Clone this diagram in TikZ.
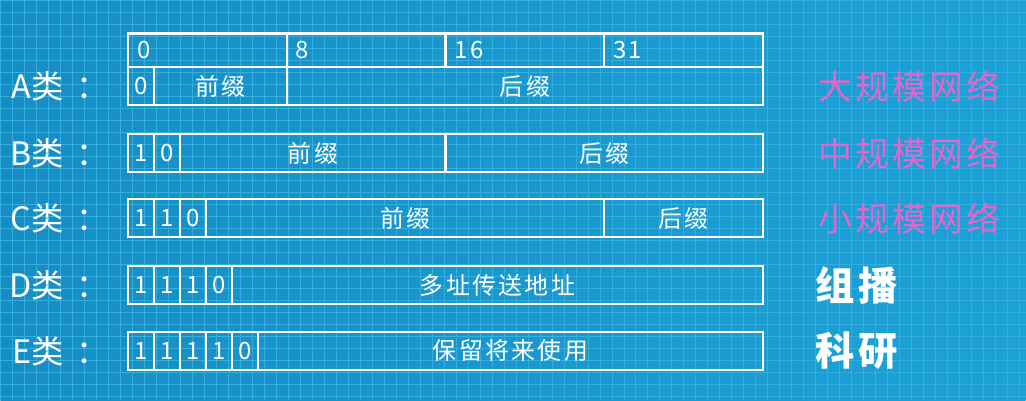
\documentclass[tikz,border=0pt]{standalone}
\usepackage{fontspec}
\setmainfont{Noto Sans CJK SC}
\newfontfamily\cellfont[LetterSpace=10]{Noto Sans CJK SC}
\usetikzlibrary{positioning}
\definecolor{bgleft}{HTML}{178DC5}
\definecolor{bgright}{HTML}{1CA2D7}
\definecolor{gridcol}{HTML}{34AEDD}
\definecolor{netpink}{HTML}{E466CC}
\definecolor{shadowcol}{HTML}{2A3F7A}

\begin{document}
\begin{tikzpicture}[
  cell/.style={rectangle, draw=white, line width=1.6pt, inner sep=0pt, outer sep=0pt, minimum height=0.94cm, text=white, font=\cellfont\fontsize{17}{20}\selectfont},
  bit/.style={cell, minimum width=0.65cm},
  head/.style={cell, minimum height=0.85cm, minimum width=3.969cm, text width=3.519cm, align=left},
  cls/.style={inner sep=0pt, text=white, font=\fontsize{23}{27}\selectfont},
  netsize/.style={inner sep=0pt, text=netpink, font=\cellfont\fontsize{24}{28}\selectfont},
  usage/.style={inner sep=0pt, text=white, font=\cellfont\fontsize{28}{32}\selectfont\bfseries}
]
% background
\shade[left color=bgleft, right color=bgright] (0,0) rectangle (25.65,-10);
\draw[gridcol, line width=0.6pt] (0,0) grid[step=0.3] (25.65,-10);
\useasboundingbox (0,0) rectangle (25.65,-10);

% bit positions
\node[head, anchor=north west] (h0) at (3.2,-0.825) {0};
\node[head, right=0pt of h0] (h8) {8};
\node[head, right=0pt of h8] (h16) {16};
\node[head, right=0pt of h16] (h31) {31};

% A
\node[bit, anchor=north west] (a1) at (3.2,-1.675) {0};
\node[cell, right=0pt of a1, minimum width=3.319cm] (apre) {前缀};
\node[cell, right=0pt of apre, minimum width=11.906cm] (asuf) {后缀};

% B
\node[bit, anchor=north west] (b1) at (3.2,-3.35) {1};
\node[bit, right=0pt of b1] (b2) {0};
\node[cell, right=0pt of b2, minimum width=6.6375cm] (bpre) {前缀};
\node[cell, right=0pt of bpre, minimum width=7.9375cm] (bsuf) {后缀};

% C
\node[bit, anchor=north west] (c1) at (3.2,-4.975) {1};
\node[bit, right=0pt of c1] (c2) {1};
\node[bit, right=0pt of c2] (c3) {0};
\node[cell, right=0pt of c3, minimum width=9.956cm] (cpre) {前缀};
\node[cell, right=0pt of cpre, minimum width=3.969cm] (csuf) {后缀};

% D
\node[bit, anchor=north west] (d1) at (3.2,-6.65) {1};
\node[bit, right=0pt of d1] (d2) {1};
\node[bit, right=0pt of d2] (d3) {1};
\node[bit, right=0pt of d3] (d4) {0};
\node[cell, right=0pt of d4, minimum width=13.275cm] (drest) {多址传送地址};

% E
\node[bit, anchor=north west] (e1) at (3.2,-8.3) {1};
\node[bit, right=0pt of e1] (e2) {1};
\node[bit, right=0pt of e2] (e3) {1};
\node[bit, right=0pt of e3] (e4) {1};
\node[bit, right=0pt of e4] (e5) {0};
\node[cell, right=0pt of e5, minimum width=12.625cm] (erest) {保留将来使用};

% class names
\node[cls, left=0.48cm of a1] (la) {A类\kern0.4em：};
\node[cls, left=0.48cm of b1] (lb) {B类\kern0.4em：};
\node[cls, left=0.48cm of c1] (lc) {C类\kern0.4em：};
\node[cls, left=0.48cm of d1] (ld) {D类\kern0.4em：};
\node[cls, left=0.48cm of e1] (le) {E类\kern0.4em：};

% usage
\node[netsize, right=1.375cm of asuf] (ra) {大规模网络};
\node[netsize, right=1.375cm of bsuf] (rb) {中规模网络};
\node[netsize, right=1.375cm of csuf] (rc) {小规模网络};
\node[usage, right=1.3cm of drest] (rd) {组播};
\node[usage, right=1.3cm of erest] (re) {科研};
\end{tikzpicture}
\end{document}
